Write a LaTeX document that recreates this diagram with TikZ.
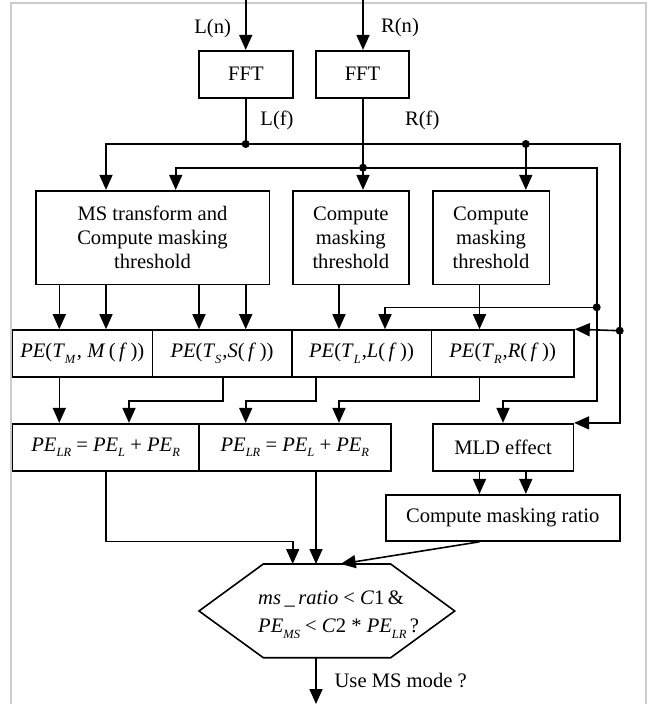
\documentclass[tikz,border=0pt]{standalone}
\usepackage{fontspec}
\setmainfont{Liberation Serif}
\usetikzlibrary{arrows.meta}
\newcommand{\mi}[1]{\textit{#1}}
\newcommand{\sbx}[1]{\raisebox{-0.28em}{\fontsize{12.5}{12.5}\selectfont\textit{#1}}}
\begin{document}
\begin{tikzpicture}[x=1pt,y=-1pt,
  every node/.style={font=\fontsize{20.6}{24.2}\selectfont},
  box/.style={draw,line width=1.6pt,inner sep=0pt,align=center},
  lbl/.style={inner sep=0pt},
  wire/.style={line width=1.6pt},
  arr/.style={line width=1.6pt,-{Triangle[width=13pt,length=15pt]}},
  dotc/.style={fill=black},
  frame/.style={draw=black!20,line width=1.6pt}]
\useasboundingbox (0,0) rectangle (649,704);
\draw[frame] (10.7,704) -- (10.7,3) -- (646,3) -- (646,704);

% lanes
\coordinate (xA) at (59.3,0);
\coordinate (xB) at (106,0);
\coordinate (xC) at (129,0);
\coordinate (xD) at (175.7,0);
\coordinate (xE) at (199,0);
\coordinate (xF) at (222.7,0);
\coordinate (xG) at (245.7,0);
\coordinate (xH) at (292.7,0);
\coordinate (xI) at (316,0);
\coordinate (xJ) at (339,0);
\coordinate (xK) at (363,0);
\coordinate (xL) at (385,0);
\coordinate (xM) at (479.5,0);
\coordinate (xN) at (503,0);
\coordinate (xO) at (525.8,0);
\coordinate (xP) at (596.7,0);
\coordinate (xQ) at (619.7,0);
\coordinate (jog) at (0,401);
\coordinate (jog2) at (0,541.3);

% boxes
\node[box,minimum width=93.7pt,minimum height=47pt] (FFTL) at (245.85,74.2) {FFT};
\node[box,minimum width=93pt,minimum height=47pt] (FFTR) at (362.5,74.2) {FFT};
\node[box,minimum width=233.6pt,minimum height=93.6pt] (MS) at (152.5,237.5) {MS transform and\\Compute masking\\threshold};
\node[box,minimum width=116.3pt,minimum height=93.6pt] (CTL) at (350.85,237.5) {Compute\\masking\\threshold};
\node[box,minimum width=116.6pt,minimum height=93.6pt] (CTR) at (491,237.5) {Compute\\masking\\threshold};

\node[box,minimum width=140pt,minimum height=47pt] (PEM) at (82.3,353.5) {\mi{PE}(\mi{T}\sbx{M}\kern1pt, \mi{M}\,(\,\mi{f}\,))};
\node[box,minimum width=139.4pt,minimum height=47pt] (PES) at (222,353.5) {\mi{PE}(\mi{T}\sbx{S}\kern1pt,\mi{S}(\,\mi{f}\,))};
\node[box,minimum width=139.6pt,minimum height=47pt] (PEL) at (361.5,353.5) {\mi{PE}(\mi{T}\sbx{L}\kern1pt,\mi{L}(\,\mi{f}\,))};
\node[box,minimum width=142.7pt,minimum height=47pt] (PER) at (502.65,353.5) {\mi{PE}(\mi{T}\sbx{R}\kern1pt,\mi{R}(\,\mi{f}\,))};

\node[box,minimum width=186.7pt,minimum height=47.3pt] (LR1) at (105.65,447.35) {\mi{PE}\sbx{LR} = \mi{PE}\sbx{L} + \mi{PE}\sbx{R}};
\node[box,minimum width=191.7pt,minimum height=47.3pt] (LR2) at (294.85,447.35) {\mi{PE}\sbx{LR} = \mi{PE}\sbx{L} + \mi{PE}\sbx{R}};
\node[box,minimum width=140.6pt,minimum height=47.3pt] (MLD) at (503,447.35) {MLD effect};
\node[box,minimum width=234pt,minimum height=46.3pt] (CMR) at (502.7,517.85) {Compute masking ratio};

% hexagon
\coordinate (hl) at (199,611);
\coordinate (htl) at (263.3,564);
\coordinate (htr) at (390.7,564);
\coordinate (hr) at (454.7,611);
\coordinate (hbr) at (390.7,657.7);
\coordinate (hbl) at (263.3,657.7);
\draw[wire,line join=miter] (hl) -- (htl) -- (htr) -- (hr) -- (hbr) -- (hbl) -- cycle;
\node[lbl,anchor=west] (dec1) at (258,598.7) {\mi{ms}\,\_\,\mi{ratio} < \mi{C}1\,\&};
\node[lbl,anchor=west] (dec2) at (258,628.7) {\mi{PE}\sbx{MS} < \mi{C}2 * \mi{PE}\sbx{LR}\,?};

% labels
\node[lbl] (Ln) at (212.7,28.3) {L(n)};
\node[lbl] (Rn) at (400,27.3) {R(n)};
\node[lbl] (Lf) at (277,120.7) {L(f)};
\node[lbl] (Rf) at (422.3,120.7) {R(f)};
\node[lbl] (use) at (400.7,680.3) {Use MS mode ?};

% junctions
\coordinate (Lin) at (245.7,0);
\coordinate (Rin) at (363,0);
\coordinate (d1) at (245.7,144);
\coordinate (d2) at (525.8,144);
\coordinate (d3) at (363,167.7);
\coordinate (d5) at (596.7,307.3);
\coordinate (d4) at (619.7,330.7);
\coordinate (hA) at (340.7,564);
\coordinate (Out) at (316,704);

% connectors
\draw[arr] (Lin) -- (Lin |- FFTL.north);
\draw[arr] (Rin) -- (Rin |- FFTR.north);
\draw[wire] (FFTL.south -| xG) -- (d1);
\draw[arr] (d1) -- (d1 -| xB) -- (MS.north -| xB);
\draw[arr] (d1) -- (d1 -| xQ) -- (MLD.north east -| xQ) -- (MLD.north east);
\draw[arr] (d2) -- (CTR.north -| xO);
\draw[arr] (d4) -- (PER.north east);
\draw[wire] (FFTR.south -| xK) -- (d3);
\draw[arr] (d3) -- (CTL.north -| xK);
\draw[arr] (d3) -- (d3 -| xD) -- (MS.north -| xD);
\draw[arr] (d3) -- (d3 -| xP) -- (jog -| xP) -- (jog -| xN) -- (MLD.north -| xN);
\draw[arr] (d5) -- (d5 -| xL) -- (PEL.north -| xL);

\draw[arr] (MS.south -| xA) -- (PEM.north -| xA);
\draw[arr] (MS.south -| xB) -- (PEM.north -| xB);
\draw[arr] (MS.south -| xE) -- (PES.north -| xE);
\draw[arr] (MS.south -| xG) -- (PES.north -| xG);
\draw[arr] (CTL.south -| xJ) -- (PEL.north -| xJ);
\draw[arr] (CTR.south -| xM) -- (PER.north -| xM);

\draw[arr] (PEM.south -| xA) -- (LR1.north -| xA);
\draw[arr] (PES.south -| xF) -- (jog -| xF) -- (jog -| xC) -- (LR1.north -| xC);
\draw[arr] (PEL.south -| xI) -- (jog -| xI) -- (jog -| xG) -- (LR2.north -| xG);
\draw[arr] (PER.south -| xM) -- (jog -| xM) -- (jog -| xJ) -- (LR2.north -| xJ);

\draw[arr] (LR1.south -| xB) -- (jog2 -| xB) -- (jog2 -| xH) -- (htl -| xH);
\draw[arr] (LR2.south -| xI) -- (htl -| xI);
\draw[arr] (MLD.south -| xM) -- (CMR.north -| xM);
\draw[arr] (MLD.south -| xO) -- (CMR.north -| xO);
\draw[arr] (CMR.south -| xM) -- (hA);
\draw[arr] (hbl -| xI) -- (Out);

\foreach \p in {d1,d2,d3,d4,d5} \fill[dotc] (\p) circle (4pt);
\end{tikzpicture}
\end{document}
